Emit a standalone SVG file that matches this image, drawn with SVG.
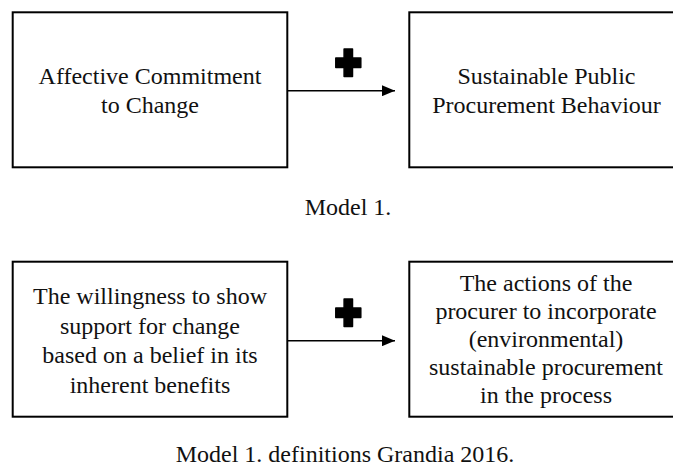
<svg xmlns="http://www.w3.org/2000/svg" width="673" height="467" viewBox="0 0 673 467">
<defs>
<style>
.box{fill:#fff;stroke:#000;stroke-width:2}
.t{font-family:'Liberation Serif','Times New Roman',Tinos,'DejaVu Serif',serif;font-size:24px;fill:#111;text-anchor:middle}
.conn{stroke:#000;stroke-width:1.4;fill:none}
.plus{fill:#000;stroke:#000;stroke-width:1.5;stroke-linejoin:round}
</style>
<marker id="ah" markerWidth="13" markerHeight="11" refX="13" refY="5.5" orient="auto" markerUnits="userSpaceOnUse">
<path d="M0,0 L13,5.5 L0,11 Z" fill="#000"/>
</marker>
<path id="plusShape" class="plus" d="M-4.2,-13.8 H4.2 V-4.7 H12.5 V4.7 H4.2 V13.8 H-4.2 V4.7 H-12.5 V-4.7 H-4.2 Z"/>
</defs>
<rect width="673" height="467" fill="#fff"/>

<g id="node-affective">
<rect class="box" x="12.7" y="12.3" width="274.6" height="155"/>
<text class="t" font-family="Liberation Serif, serif" x="150" y="84">Affective  Commitment</text>
<text class="t" font-family="Liberation Serif, serif" x="150" y="113">to Change</text>
</g>

<g id="node-sppb">
<rect class="box" x="409.3" y="12.3" width="274.6" height="155"/>
<text class="t" font-family="Liberation Serif, serif" x="546.5" y="84">Sustainable Public</text>
<text class="t" font-family="Liberation Serif, serif" x="546.5" y="113">Procurement Behaviour</text>
</g>

<g id="node-willingness">
<rect class="box" x="12.7" y="261.7" width="274.6" height="155"/>
<text class="t" font-family="Liberation Serif, serif" x="150" y="304">The willingness  to show</text>
<text class="t" font-family="Liberation Serif, serif" x="150" y="333.5">support for change</text>
<text class="t" font-family="Liberation Serif, serif" x="150" y="363">based on a belief in its</text>
<text class="t" font-family="Liberation Serif, serif" x="150" y="392.5">inherent benefits</text>
</g>

<g id="node-actions">
<rect class="box" x="409.3" y="261.7" width="274.6" height="155"/>
<text class="t" font-family="Liberation Serif, serif" x="546" y="290.5">The actions of the</text>
<text class="t" font-family="Liberation Serif, serif" x="546" y="318.5">procurer to incorporate</text>
<text class="t" font-family="Liberation Serif, serif" x="546" y="346.5">(environmental)</text>
<text class="t" font-family="Liberation Serif, serif" x="546" y="374.5">sustainable procurement</text>
<text class="t" font-family="Liberation Serif, serif" x="546" y="402.5">in the process</text>
</g>

<g id="connectors">
<line class="conn" x1="287.3" y1="90.7" x2="395" y2="90.7" marker-end="url(#ah)"/>
<use href="#plusShape" x="348.3" y="62.8"/>
<line class="conn" x1="287.3" y1="340.7" x2="395" y2="340.7" marker-end="url(#ah)"/>
<use href="#plusShape" x="348.3" y="312.7"/>
</g>

<g id="captions">
<text class="t" font-family="Liberation Serif, serif" x="348" y="215">Model 1.</text>
<text class="t" font-family="Liberation Serif, serif" x="345" y="462">Model 1. definitions Grandia 2016.</text>
</g>
</svg>
